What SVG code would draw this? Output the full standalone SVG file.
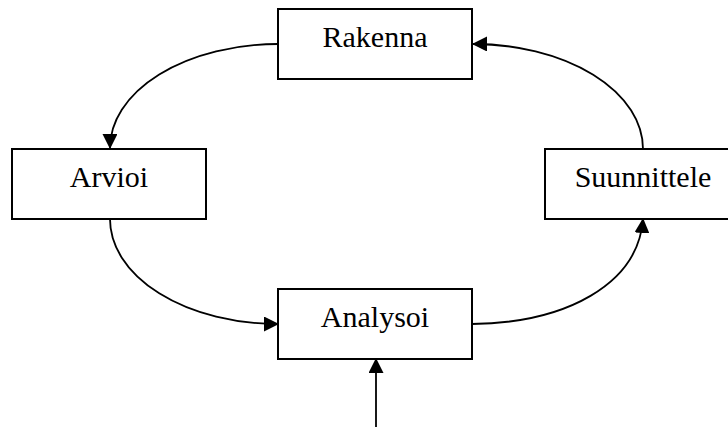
<svg xmlns="http://www.w3.org/2000/svg" width="728" height="427" viewBox="0 0 728 427">
  <style>
    .box { fill: #ffffff; stroke: #000000; stroke-width: 2; }
    .label { font-family: "Liberation Serif", "Times New Roman", serif; font-size: 30px; fill: #000000; text-anchor: middle; }
    .edge { fill: none; stroke: #000000; stroke-width: 1.8; marker-end: url(#arrow); }
  </style>
  <defs>
    <marker id="arrow" markerUnits="userSpaceOnUse" markerWidth="15" markerHeight="15" viewBox="0 0 15 15" refX="14" refY="7.5" orient="auto">
      <path d="M0,0 L15,7.5 L0,15 Z" fill="#000000"/>
    </marker>
  </defs>
  <rect width="728" height="427" fill="#ffffff"/>

  <g id="connectors">
    <!-- Rakenna to Arvioi -->
    <path class="edge" d="M278,44 A168,104 0 0 0 110,148"/>
    <!-- Arvioi to Analysoi -->
    <path class="edge" d="M110,219 A168,105 0 0 0 278,324"/>
    <!-- Analysoi to Suunnittele -->
    <path class="edge" d="M472,324 C565,323 638,285 643,219"/>
    <!-- Suunnittele to Rakenna -->
    <path class="edge" d="M643,149 A170,105 0 0 0 473,44"/>
    <!-- incoming arrow into Analysoi -->
    <path class="edge" d="M376,427 L376,359"/>
  </g>

  <g id="rakenna">
    <rect class="box" x="278" y="9" width="194" height="70"/>
    <text class="label" x="375" y="47">Rakenna</text>
  </g>
  <g id="arvioi">
    <rect class="box" x="12" y="149" width="194" height="70"/>
    <text class="label" x="109" y="187">Arvioi</text>
  </g>
  <g id="suunnittele">
    <rect class="box" x="545" y="149" width="196" height="70"/>
    <text class="label" x="643" y="187">Suunnittele</text>
  </g>
  <g id="analysoi">
    <rect class="box" x="278" y="289" width="194" height="70"/>
    <text class="label" x="375" y="327">Analysoi</text>
  </g>
</svg>
